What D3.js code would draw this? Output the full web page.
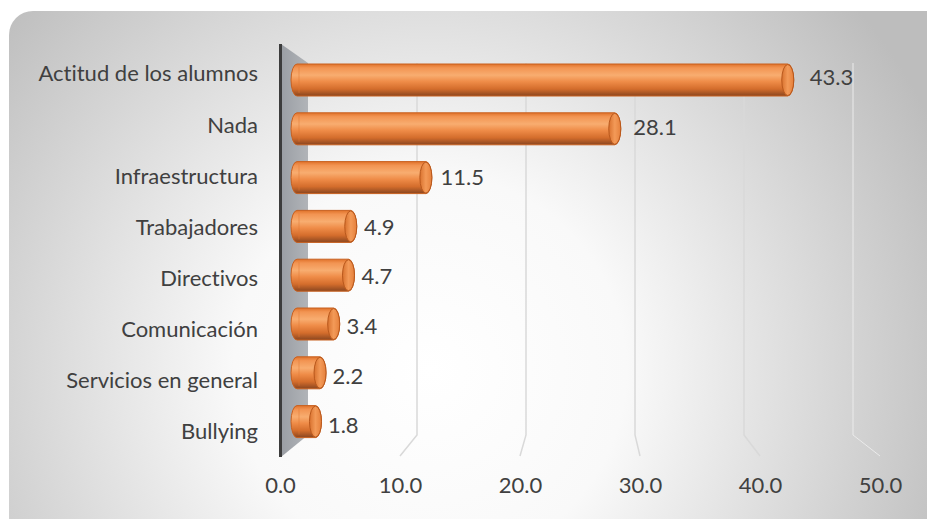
<!DOCTYPE html>
<html><head><meta charset="utf-8">
<script src="https://cdn.jsdelivr.net/npm/d3@7"></script>
<style>body{margin:0;background:#fff}svg{display:block}text{font-family:Lato,"Open Sans",sans-serif;fill:#404040;font-variant-ligatures:none;font-feature-settings:"liga" 0}</style>
</head><body><svg id="c" width="927" height="519"></svg>
<script>
const categories = ["Actitud de los alumnos","Nada ","Infraestructura","Trabajadores","Directivos","Comunicación","Servicios en general","Bullying"];
const values = [43.3,28.1,11.5,4.9,4.7,3.4,2.2,1.8];
const xTicks = [0,10,20,30,40,50];

const svg = d3.select("#c");
const defs = svg.append("defs");
const bg = defs.append("radialGradient").attr("id","bg").attr("gradientUnits","userSpaceOnUse")
  .attr("cx",430).attr("cy",370).attr("r",560);
bg.append("stop").attr("offset","0%").attr("stop-color","#ffffff");
bg.append("stop").attr("offset","35%").attr("stop-color","#f9f9f9");
bg.append("stop").attr("offset","100%").attr("stop-color","#bdbdbd");
const bodyG = defs.append("linearGradient").attr("id","body").attr("x1",0).attr("y1",0).attr("x2",0).attr("y2",1);
[["0%","#e0722a"],["12%","#f29452"],["35%","#f8ad70"],["55%","#ef8c48"],["78%","#d46d2c"],["100%","#8a4620"]].forEach(s=>bodyG.append("stop").attr("offset",s[0]).attr("stop-color",s[1]));
const capG = defs.append("linearGradient").attr("id","cap").attr("x1",0).attr("y1",0).attr("x2",1).attr("y2",0);
[["0%","#d9722f"],["50%","#f39a58"],["100%","#e5803c"]].forEach(s=>capG.append("stop").attr("offset",s[0]).attr("stop-color",s[1]));
const wallG = defs.append("linearGradient").attr("id","wall").attr("x1",0).attr("y1",0).attr("x2",1).attr("y2",0);
wallG.append("stop").attr("offset","0%").attr("stop-color","#9a9ea4");
wallG.append("stop").attr("offset","100%").attr("stop-color","#b1b4b8");

svg.append("rect").attr("x",9).attr("y",11).attr("width",940).attr("height",530).attr("rx",24).attr("fill","url(#bg)");

const xBar = d3.scaleLinear().domain([0,50]).range([301,870]);
const xBack = d3.scaleLinear().domain([0,50]).range([308,853]);
const xFront = d3.scaleLinear().domain([0,50]).range([280,880]);
const xLabel = d3.scaleLinear().domain([0,50]).range([307,887.5]);
const yBar = d3.scalePoint().domain(categories).range([55.6,446]).padding(0.5);
const yLab = d3.scalePoint().domain(categories).range([47.5,456.5]).padding(0.5);
const yVal = d3.scalePoint().domain(categories).range([52.6,450.3]).padding(0.5);

// gridlines
svg.append("g").selectAll("path").data(xTicks.slice(1)).join("path")
  .attr("d",v=>`M${xBack(v)},63V435L${xFront(v)},456`)
  .attr("fill","none").attr("stroke",v=>v===50?"#ebebeb":"#d9d9d9").attr("stroke-width",v=>v===50?1:1.5);

// wall
svg.append("path").attr("d",`M${xFront(0)+1},44L${xBack(0)},63L${xBack(0)},435L${xFront(0)+1},457Z`).attr("fill","url(#wall)");
svg.append("line").attr("x1",xFront(0)+0.5).attr("x2",xFront(0)+0.5).attr("y1",44).attr("y2",457).attr("stroke","#3c3c3c").attr("stroke-width",3);

// bars
const bh = 32, crx = 6, x0 = 291;
const bars = svg.append("g").selectAll("g").data(categories).join("g");
bars.append("rect").attr("x",x0).attr("y",(d)=>yBar(d)-bh/2)
  .attr("width",(d,i)=>xBar(values[i])-x0).attr("height",bh).attr("rx",crx).attr("ry",bh/2)
  .attr("fill","url(#body)").attr("stroke","#c8601f").attr("stroke-width",1);
bars.append("line").attr("x1",x0+crx+2).attr("x2",x0+crx+2).attr("y1",d=>yBar(d)-bh/2+3).attr("y2",d=>yBar(d)+bh/2-3)
  .attr("stroke","#e07a34").attr("stroke-opacity",0.5);
bars.append("ellipse").attr("cx",(d,i)=>xBar(values[i])-crx).attr("cy",d=>yBar(d)).attr("rx",crx).attr("ry",bh/2-0.5)
  .attr("fill","url(#cap)").attr("stroke","#b9581c").attr("stroke-width",1);

// value labels
svg.append("g").selectAll("text").data(categories).join("text")
  .attr("x",(d,i)=>xLabel(values[i])).attr("y",d=>yVal(d)).attr("dy","0.36em")
  .style("font-size","22px").text((d,i)=>d3.format(".1f")(values[i]));

// category axis
const ax = svg.append("g").attr("transform","translate(262,0)")
  .call(d3.axisLeft(yLab).tickSize(0).tickPadding(4));
ax.select(".domain").remove();
ax.selectAll("text").style("font-size","22px").attr("fill","#404040").attr("dy","0.36em");

// value axis
const bx = svg.append("g").attr("transform","translate(0,469)")
  .call(d3.axisBottom(xFront).tickValues(xTicks).tickFormat(d3.format(".1f")).tickSize(0).tickPadding(8));
bx.select(".domain").remove();
bx.selectAll("text").style("font-size","22px").attr("fill","#404040");
svg.selectAll(".tick text").style("font-family","Lato,'Open Sans',sans-serif").style("font-variant-ligatures","none");
</script></body></html>
